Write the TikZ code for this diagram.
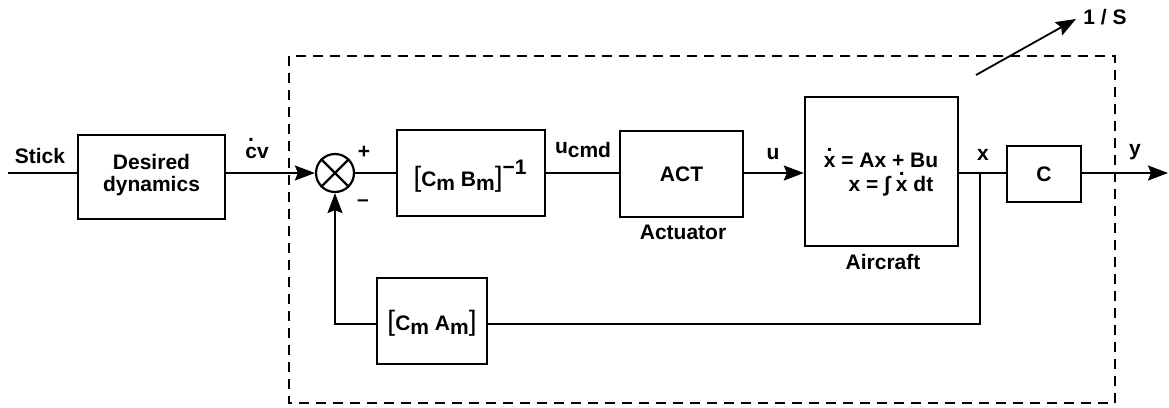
\documentclass[tikz,border=0pt]{standalone}
\usepackage{fontspec}
\setmainfont{Liberation Sans}
\usetikzlibrary{arrows.meta}
% dot accent placed high above a letter
\newcommand\hdot[1]{\ooalign{#1\cr\hidewidth\smash{\raisebox{0.8em}{.}}\hidewidth\cr}}
% lowered subscript at nearly full size
\newcommand\lsub[1]{\raisebox{-0.42ex}{#1}}
\newcommand\bigbr[1]{{\fontsize{28}{28}\selectfont\mdseries #1}}
\begin{document}
\begin{tikzpicture}[x=1pt,y=-1pt,
  font=\fontsize{21}{25}\selectfont\bfseries,
  blk/.style={draw,line width=2.4pt,inner sep=0pt},
  lbl/.style={inner sep=0pt},
  wire/.style={line width=1.8pt},
  arr/.style={wire,-{Stealth[length=20pt,width=15pt,inset=3pt]}}]
\useasboundingbox (0,0) rectangle (1169,407);

% dashed outline of the control law
\draw[line width=2pt,dash pattern=on 10pt off 7pt] (289,56) rectangle (1115,403);

% blocks
\node[blk,minimum width=147pt,minimum height=84pt] (dd) at (151.5,177) {};
\node[lbl,align=center] (ddt) at (151.5,175) {Desired\\[-3pt]dynamics};
\node[draw,circle,line width=2.2pt,minimum size=38pt,inner sep=0pt] (sum) at (335,173) {};
\draw[line width=2.2pt] (sum.north west) -- (sum.south east) (sum.north east) -- (sum.south west);
\node[blk,minimum width=148pt,minimum height=86pt] (inv) at (471,173) {};
\node[lbl] (invt) at (470,176) {\bigbr{[}C\lsub{m} B\lsub{m}\bigbr{]}\raisebox{0.55em}{−1}};
\node[blk,minimum width=123pt,minimum height=86pt] (act) at (681.5,174) {ACT};
\node[blk,minimum width=153pt,minimum height=149pt] (ac) at (881.5,171.5) {};
\node[lbl,align=center] (eq) at (881,175) {\hdot{x} = Ax + Bu\\[-1pt]\hspace*{20pt}x = ∫ \hdot{x} dt};
\node[blk,minimum width=74pt,minimum height=56pt] (cc) at (1044,174) {C};
\node[blk,minimum width=110pt,minimum height=86pt] (fb) at (432,321) {};
\node[lbl] (fbt) at (432,323) {\bigbr{[}C\lsub{m} A\lsub{m}\bigbr{]}};

% labels
\node[lbl] (stick) at (40,156) {Stick};
\node[lbl] (cv) at (257,153) {\hdot{c}v};
\node[lbl] (plus) at (364,152) {+};
\node[lbl] (minus) at (363,203) {–};
\node[lbl] (ucmd) at (583,150) {u\lsub{cmd}};
\node[lbl] (actl) at (683,232) {Actuator};
\node[lbl] (ul) at (773,154) {u};
\node[lbl] (acl) at (883,262) {Aircraft};
\node[lbl] (xl) at (983,155) {x};
\node[lbl] (yl) at (1135,152) {y};
\node[lbl] (sl) at (1105,17) {1 / S};

% signal path
\coordinate (in) at (8,173);
\coordinate (xj) at (980,173);
\coordinate (out) at (1168,173);
\coordinate (fbr) at (980,324);
\coordinate (fbl) at (335,324);
\draw[wire] (in) -- (dd.west |- in);
\draw[arr] (dd.east |- in) -- (sum.west);
\draw[wire] (sum.east) -- (inv.west |- sum);
\draw[wire] (inv.east |- sum) -- (act.west |- sum);
\draw[arr] (act.east |- sum) -- (ac.west |- sum);
\draw[wire] (ac.east |- xj) -- (cc.west |- xj);
\draw[arr] (cc.east |- xj) -- (out);

% state feedback
\draw[wire] (xj) -- (fbr) -- (fb.east |- fbr);
\draw[arr] (fb.west |- fbl) -- (fbl) -- (sum.south);

% integrator gain arrow
\coordinate (sa) at (976,75);
\coordinate (se) at (1076,19);
\draw[arr] (sa) -- (se);
\end{tikzpicture}
\end{document}
